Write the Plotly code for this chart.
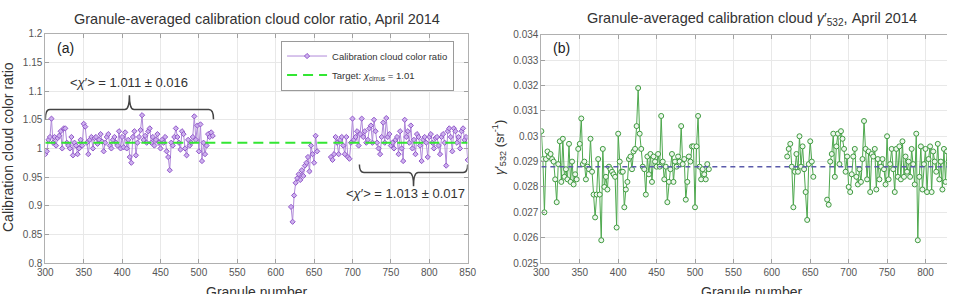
import plotly.graph_objects as go

# ---------------- data ----------------
granules_seg1 = list(range(300, 520, 2))    # 300..518
granules_seg2a = list(range(620, 656, 2))   # 620..654
granules_seg2b = list(range(672, 852, 2))   # 672..850

ratio_seg1 = [
    0.990, 0.995, 1.015, 1.020, 1.052, 1.010, 1.020, 1.005, 1.018, 1.022,
    1.030, 1.000, 1.035, 1.035, 1.010, 1.005, 1.000, 1.020, 0.988, 1.010,
    1.005, 0.990, 1.000, 1.015, 1.005, 1.043, 1.038, 1.010, 0.990, 1.015,
    1.020, 1.000, 1.018, 1.020, 1.008, 1.015, 1.025, 1.012, 0.995, 1.010,
    1.020, 1.025, 1.005, 1.000, 1.015, 1.020, 1.010, 1.005, 1.030, 1.000,
    1.020, 1.002, 1.028, 1.000, 1.015, 0.985, 0.975, 1.020, 1.030, 0.988,
    1.010, 1.020, 1.032, 1.058, 1.015, 1.022, 1.010, 1.030, 1.035, 1.010,
    1.020, 1.005, 1.015, 1.025, 1.010, 1.000, 1.015, 1.010, 1.020, 0.995,
    0.985, 0.962, 1.010, 1.005, 1.020, 1.035, 1.020, 1.010, 0.998, 1.030,
    1.025, 1.000, 0.988, 1.015, 1.005, 1.010, 1.020, 1.056, 1.015, 1.040,
    0.995, 1.042, 0.978, 1.010, 0.990, 1.005, 1.025, 1.020, 1.028, 1.022,
]
ratio_seg2a = [
    0.898, 0.872, 0.918, 0.940, 0.948, 0.955, 0.945, 0.962, 0.952, 0.970,
    0.975, 0.985, 0.960, 1.005, 0.990, 0.975, 1.022, 0.995,
]
ratio_seg2b = [
    0.985, 0.980, 0.990, 1.020, 1.010, 0.990, 1.015, 1.020, 1.005, 0.990,
    1.020, 0.985, 0.982, 1.010, 1.052, 1.015, 1.020, 1.030, 1.005, 1.025,
    1.052, 1.020, 1.030, 1.010, 1.015, 1.035, 1.040, 1.010, 1.050, 1.030,
    1.010, 1.000, 0.990, 1.020, 1.045, 1.010, 1.053, 1.020, 1.025, 1.005,
    1.010, 1.000, 1.015, 1.020, 0.990, 1.030, 1.000, 0.978, 1.050, 1.020,
    1.030, 1.010, 1.040, 1.000, 1.015, 0.990, 1.025, 1.020, 1.005, 0.978,
    1.015, 1.020, 1.010, 0.985, 1.020, 1.025, 1.010, 1.000, 1.018, 1.020,
    1.005, 0.990, 1.020, 1.025, 1.010, 0.970, 1.030, 1.035, 1.020, 0.995,
    1.035, 1.030, 1.010, 1.020, 1.000, 1.030, 1.035, 1.015, 1.020, 0.980,
]

gamma_seg1 = [
    0.0302, 0.0291, 0.0270, 0.0291, 0.0294, 0.0292, 0.0293, 0.0291, 0.0290, 0.0283,
    0.0274, 0.0289, 0.0298, 0.0282, 0.0299, 0.0284, 0.0287, 0.0283, 0.0297, 0.0282,
    0.0290, 0.0281, 0.0285, 0.0283, 0.0295, 0.0297, 0.0307, 0.0289, 0.0290, 0.0283,
    0.0288, 0.0287, 0.0299, 0.0286, 0.0277, 0.0268, 0.0277, 0.0291, 0.0277, 0.0259,
    0.0295, 0.0280, 0.0284, 0.0279, 0.0288, 0.0287, 0.0286, 0.0285, 0.0284, 0.0264,
    0.0301, 0.0290, 0.0286, 0.0286, 0.0272, 0.0279, 0.0282, 0.0291, 0.0292, 0.0287,
    0.0294, 0.0295, 0.0304, 0.0319, 0.0301, 0.0295, 0.0288, 0.0287, 0.0277, 0.0292,
    0.0285, 0.0293, 0.0282, 0.0292, 0.0290, 0.0288, 0.0293, 0.0288, 0.0308, 0.0290,
    0.0283, 0.0288, 0.0274, 0.0282, 0.0287, 0.0293, 0.0282, 0.0290, 0.0288, 0.0292,
    0.0290, 0.0304, 0.0289, 0.0291, 0.0275, 0.0282, 0.0292, 0.0290, 0.0296, 0.0296,
    0.0272, 0.0296, 0.0308, 0.0288, 0.0283, 0.0287, 0.0285, 0.0283, 0.0289, 0.0287,
]
gamma_seg2a = [
    0.0292, 0.0295, 0.0297, 0.0288, 0.0272, 0.0286, 0.0293, 0.0286, 0.0300, 0.0288,
    0.0296, 0.0287, 0.0278, 0.0267, 0.0289, 0.0298, 0.0290, 0.0284,
]
gamma_seg2b = [
    0.0275, 0.0273, 0.0290, 0.0293, 0.0301, 0.0284, 0.0296, 0.0301, 0.0289, 0.0302,
    0.0299, 0.0295, 0.0286, 0.0292, 0.0280, 0.0278, 0.0285, 0.0292, 0.0295, 0.0284,
    0.0281, 0.0287, 0.0282, 0.0291, 0.0306, 0.0295, 0.0283, 0.0294, 0.0278, 0.0293,
    0.0292, 0.0295, 0.0279, 0.0291, 0.0283, 0.0288, 0.0291, 0.0287, 0.0281, 0.0300,
    0.0283, 0.0289, 0.0295, 0.0287, 0.0278, 0.0295, 0.0284, 0.0296, 0.0283, 0.0298,
    0.0284, 0.0292, 0.0286, 0.0290, 0.0284, 0.0295, 0.0289, 0.0281, 0.0301, 0.0259,
    0.0284, 0.0296, 0.0279, 0.0289, 0.0295, 0.0278, 0.0291, 0.0296, 0.0278, 0.0294,
    0.0290, 0.0286, 0.0297, 0.0283, 0.0290, 0.0279, 0.0295, 0.0282, 0.0294, 0.0290,
    0.0286, 0.0292, 0.0284, 0.0290, 0.0296, 0.0283, 0.0289, 0.0293, 0.0287, 0.0285,
]

target_ratio = 1.01
mean_gamma = 0.0288
x_span = [300, 850]

mean1_text = "&lt;<i>χ</i>′&gt; = 1.011 ± 0.016"
mean2_text = "&lt;<i>χ</i>′&gt; = 1.013 ± 0.017"

x_ticks = [300, 350, 400, 450, 500, 550, 600, 650, 700, 750, 800, 850]
y1_ticks = [0.8, 0.85, 0.9, 0.95, 1.0, 1.05, 1.1, 1.15, 1.2]
y1_ticktext = ["0.8", "0.85", "0.9", "0.95", "1", "1.05", "1.1", "1.15", "1.2"]
y2_ticks = [0.025, 0.026, 0.027, 0.028, 0.029, 0.030, 0.031, 0.032, 0.033, 0.034]
y2_ticktext = ["0.025", "0.026", "0.027", "0.028", "0.029", "0.03", "0.031", "0.032", "0.033", "0.034"]

# ---------------- assemble with gaps ----------------
gx = granules_seg1 + [None] + granules_seg2a + [None] + granules_seg2b
ratio = ratio_seg1 + [None] + ratio_seg2a + [None] + ratio_seg2b
gamma = gamma_seg1 + [None] + gamma_seg2a + [None] + gamma_seg2b

W, H = 956, 294
def fx(p):
    return p / W
def fy(p):
    return 1 - p / H

fig = go.Figure()

fig.add_trace(go.Scatter(
    x=gx, y=ratio, mode="lines+markers", name="Calibration cloud color ratio",
    line=dict(color="#b08ad9", width=1),
    marker=dict(symbol="diamond", size=4, color="#cdb0ee", line=dict(color="#9158c9", width=1)),
    xaxis="x", yaxis="y", connectgaps=False,
))
fig.add_trace(go.Scatter(
    x=x_span, y=[target_ratio, target_ratio], mode="lines",
    name="Target: <i>χ</i><sub>cirrus</sub> = 1.01",
    line=dict(color="#33e633", width=2, dash="10px,6px"),
    xaxis="x", yaxis="y",
))
fig.add_trace(go.Scatter(
    x=gx, y=gamma, mode="lines+markers", showlegend=False,
    line=dict(color="#4ea84e", width=1),
    marker=dict(symbol="circle", size=5, color="#eef7ee", line=dict(color="#3f9a3f", width=1)),
    xaxis="x2", yaxis="y2", connectgaps=False,
))
fig.add_trace(go.Scatter(
    x=x_span, y=[mean_gamma, mean_gamma], mode="lines", showlegend=False,
    line=dict(color="#5a5aaa", width=1.6, dash="5px,4px"),
    xaxis="x2", yaxis="y2",
))

axis_common = dict(
    showgrid=True, gridcolor="#e8e8e8", gridwidth=1,
    showline=True, linecolor="#b0b0b0", linewidth=1,
    ticks="inside", ticklen=4, tickcolor="#a0a0a0",
    tickfont=dict(family="Liberation Sans, Arial", size=10, color="#555555"),
    zeroline=False,
)

fig.update_layout(
    width=W, height=H,
    margin=dict(l=0, r=0, t=0, b=0),
    paper_bgcolor="white", plot_bgcolor="white",
    font=dict(family="Liberation Sans, Arial", color="#333333"),
    xaxis=dict(domain=[fx(38), fx(468)], range=[300, 850], tickvals=x_ticks,
               anchor="y", mirror="ticks", **axis_common),
    yaxis=dict(domain=[fy(268), fy(29)], range=[0.8, 1.2], tickvals=y1_ticks,
               ticktext=y1_ticktext, anchor="x", mirror="ticks", **axis_common),
    xaxis2=dict(domain=[fx(543), 1.0], range=[300, 828], tickvals=x_ticks,
                anchor="y2", mirror="ticks", **axis_common),
    yaxis2=dict(domain=[fy(268), fy(30)], range=[0.025, 0.034], tickvals=y2_ticks,
                ticktext=y2_ticktext, anchor="x2", **axis_common),
    legend=dict(x=fx(278), y=fy(36), xanchor="left", yanchor="top",
                bordercolor="#9a9a9a", borderwidth=1, bgcolor="white",
                itemwidth=40,
                font=dict(size=9.5, color="#333333"), tracegroupgap=0),
    showlegend=True,
)

ann = [
    dict(text="Granule-averaged calibration cloud color ratio, April 2014",
         x=fx(253), y=fy(14), font=dict(size=14.5, color="#333333")),
    dict(text="Granule-averaged calibration cloud <i>γ</i>′<sub>532</sub>, April 2014",
         x=fx(757), y=fy(14), font=dict(size=14.5, color="#333333")),
    dict(text="Calibration cloud color ratio", x=fx(0), y=fy(147), textangle=-90,
         font=dict(size=14, color="#333333")),
    dict(text="<i>γ</i>′<sub>532</sub> (sr<sup>-1</sup>)", x=fx(500), y=fy(148), textangle=-90,
         font=dict(size=13, color="#333333")),
    dict(text="(a)", x=fx(48), y=fy(44), xanchor="left", font=dict(size=14, color="#222222")),
    dict(text="(b)", x=fx(553), y=fy(44), xanchor="left", font=dict(size=14, color="#222222")),
    dict(text="Granule number", x=fx(253), y=fy(288), yanchor="top",
         font=dict(size=14, color="#333333")),
    dict(text="Granule number", x=fx(757), y=fy(288), yanchor="top",
         font=dict(size=14, color="#333333")),
]
for a in ann:
    a.setdefault("xanchor", "center")
    a.setdefault("yanchor", "middle")
    fig.add_annotation(xref="paper", yref="paper", showarrow=False, **a)

fig.add_annotation(xref="x", yref="y", x=409, y=1.115, text=mean1_text, showarrow=False,
                   font=dict(size=13, color="#333333"))
fig.add_annotation(xref="x", yref="y", x=769, y=0.922, text=mean2_text, showarrow=False,
                   font=dict(size=13, color="#333333"))


def brace(x0, x1, yend, ymid, ytip, dx):
    xc = (x0 + x1) / 2
    return (f"M {x0},{yend} Q {x0},{ymid} {x0+dx},{ymid} L {xc-dx},{ymid} "
            f"Q {xc},{ymid} {xc},{ytip} Q {xc},{ymid} {xc+dx},{ymid} "
            f"L {x1-dx},{ymid} Q {x1},{ymid} {x1},{yend}")

fig.add_shape(type="path", xref="x", yref="y",
              path=brace(300, 519, 1.051, 1.068, 1.093, 6),
              line=dict(color="#444444", width=1.5))
fig.add_shape(type="path", xref="x", yref="y",
              path=brace(709, 850, 0.972, 0.958, 0.934, 6),
              line=dict(color="#444444", width=1.5))

fig.write_html("out.html")
